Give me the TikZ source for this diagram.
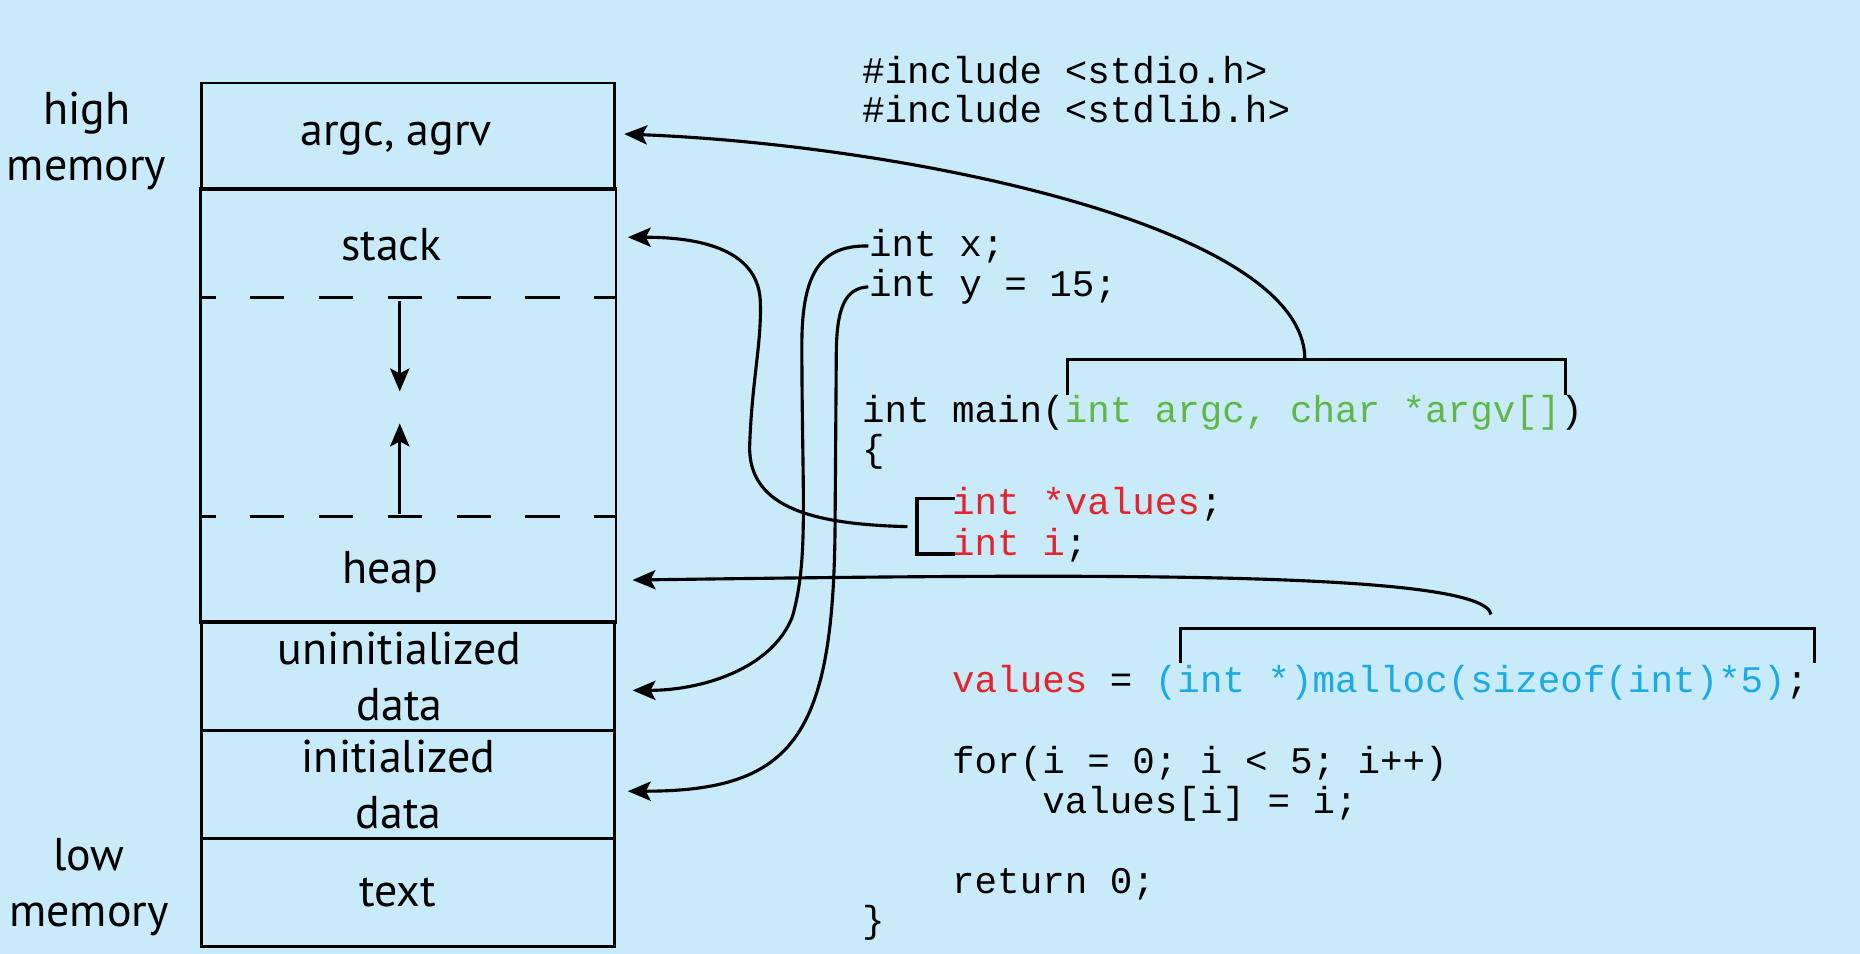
\documentclass[tikz,border=0pt]{standalone}
\usepackage{fontspec}
\setmainfont{PT Sans}
\newfontfamily\codefont{Liberation Mono}
\usetikzlibrary{arrows.meta}
\definecolor{bgblue}{RGB}{200,234,249}
\definecolor{argred}{RGB}{228,35,45}
\definecolor{arggreen}{RGB}{95,183,72}
\definecolor{castcyan}{RGB}{27,170,226}

\begin{document}
\begin{tikzpicture}[x=0.01cm, y=-0.01cm,
	seg/.style={draw, line width=0.65pt, minimum width=3.48cm, inner sep=0pt},
	lbl/.style={align=center, inner sep=0pt, font=\fontsize{11}{13.4}\selectfont},
	side/.style={align=center, inner sep=0pt, font=\fontsize{11}{13.4}\selectfont},
	code/.style={anchor=base west, inner sep=0pt, font=\codefont\fontsize{9}{11}\selectfont},
	brk/.style={line width=0.75pt},
	conn/.style={line width=0.75pt, -{Stealth[length=5.5pt,width=4.6pt,inset=1.2pt]}},
	gap/.style={line width=0.65pt, dash pattern=on 8.25pt off 8.25pt, dash phase=4.55pt}]
		%%%%% START %%%%%
		
		\fill[bgblue] (0, 0) rectangle (1568, 804);
		
		\node[side] (high) at (73, 119) {high\\memory};
		\node[side] (low) at (75, 748) {low\\memory};
		
		\node[seg, minimum height=0.90cm, label={[lbl, xshift=-0.10cm, yshift=-0.02cm]center:{argc, agrv}}] (argc) at (344, 115) {};
		\node[seg, draw=none, minimum height=0.92cm, label={[lbl, xshift=-0.14cm]center:stack}] (stack) at (344, 206) {};
		\node[seg, draw=none, minimum height=1.82cm] (mid) at (344, 343) {};
		\node[seg, draw=none, minimum height=0.90cm, label={[lbl, xshift=-0.15cm, yshift=-0.03cm]center:heap}] (heap) at (344, 479) {};
		\node[seg, minimum height=0.92cm, label={[lbl, xshift=-0.07cm]center:uninitialized\\data}] (uninit) at (344, 570) {};
		\node[seg, minimum height=0.91cm, label={[lbl, xshift=-0.08cm]center:initialized\\data}] (init) at (344, 661.5) {};
		\node[seg, minimum height=0.91cm, label={[lbl, xshift=-0.09cm]center:text}] (txt) at (344, 752.5) {};
		
		\draw[line width=0.65pt] (stack.north west) rectangle (heap.south east);
		\draw[gap] (mid.north west) -- (mid.north east);
		\draw[gap] (mid.south west) -- (mid.south east);
		\draw[conn] ([shift={(-7,3)}]mid.north) -- ([shift={(-7,-13)}]mid.center);
		\draw[conn] ([shift={(-7,-2)}]mid.south) -- ([shift={(-7,14)}]mid.center);
		
		\node[code] (inc1) at (726, 70) {\#include <stdio.h>};
		\node[code] (inc2) at (726, 103) {\#include <stdlib.h>};
		\node[code] (declx) at (732, 216) {int x;};
		\node[code] (decly) at (732, 250) {int y = 15;};
		\node[code] (mainsig) at (726, 356) {int main(\textcolor{arggreen}{int argc, char *argv[]})};
		\node[code] (lbr) at (726, 389) {\{};
		\node[code] (declv) at (802, 434) {\textcolor{argred}{int *values};};
		\node[code] (decli) at (802, 468) {\textcolor{argred}{int i};};
		\node[code] (alloc) at (802, 584) {\textcolor{argred}{values} = \textcolor{castcyan}{(int *)malloc(sizeof(int)*5)};};
		\node[code] (forl) at (802, 652) {for(i = 0; i < 5; i++)};
		\node[code] (loopb) at (878, 686) {values[i] = i;};
		\node[code] (ret) at (802, 753) {return 0;};
		\node[code] (rbr) at (726, 786) {\}};
		
		% brackets under the code
		\coordinate (argvtop) at (1100, 303);
		\coordinate (vbr) at (765, 444);
		\coordinate (mallocb) at (1257, 518);
		\draw[brk] (900, 333) |- (1320, 303) -- (1320, 333);
		\draw[brk] (805, 420) -| (773, 467) -- (805, 467);
		\draw[brk] (995, 559) |- (1530, 530) -- (1530, 559);
		
		\draw[conn] (argvtop) .. controls (1100, 190) and (760, 122) .. ([shift={(7,-2)}]argc.east);
		\draw[conn] (vbr) .. controls (690, 442) and (630, 430) .. (632, 375) .. controls (634, 320) and (642, 290) .. (641, 255) .. controls (640, 215) and (600, 200) .. ([shift={(10,-6)}]stack.east);
		\draw[conn] (mallocb) .. controls (1250, 480) and (900, 484) .. ([shift={(14,10)}]heap.east);
		\draw[conn] (declx.west) .. controls (695, 207) and (676, 225) .. (676, 290) .. controls (676, 420) and (682, 470) .. (668, 520) .. controls (650, 565) and (590, 582) .. ([shift={(14,12)}]uninit.east);
		\draw[conn] (decly.west) .. controls (713, 243) and (705, 258) .. (705, 300) -- (704, 440) .. controls (703, 620) and (670, 667) .. ([shift={(10,5.5)}]init.east);
		
		%%%%% END %%%%%
\end{tikzpicture}
\end{document}
